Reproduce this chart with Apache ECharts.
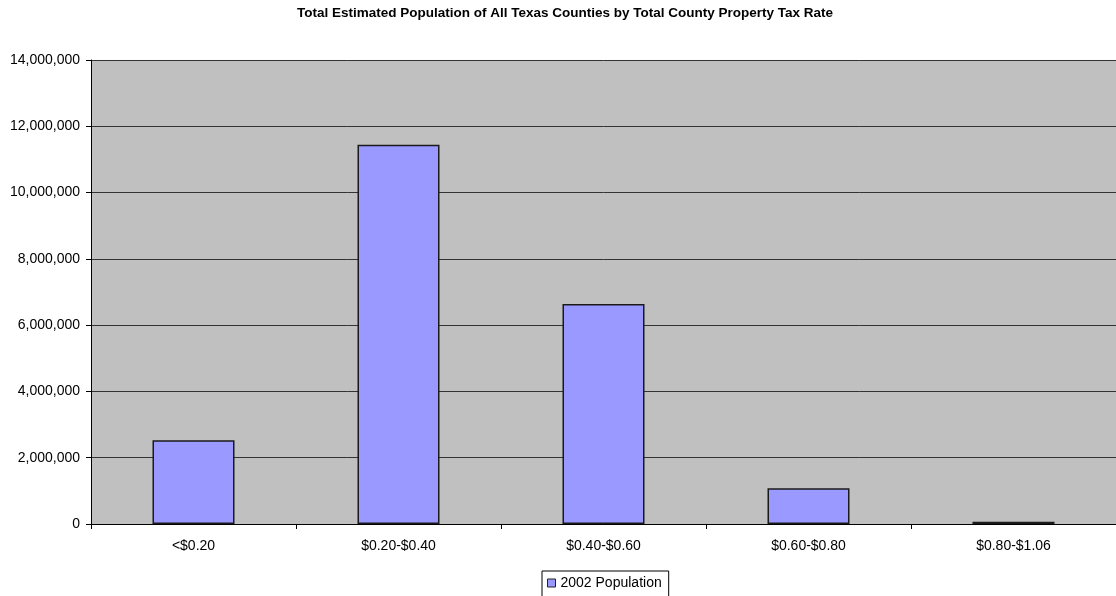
<!DOCTYPE html>
<html>
<head>
<meta charset="utf-8">
<script src="https://cdn.jsdelivr.net/npm/echarts@6/dist/echarts.min.js"></script>
<style>
  html, body { margin: 0; padding: 0; background: #fff; }
  #chart { width: 1116px; height: 596px; }
</style>
</head>
<body>
<div id="chart"></div>
<script>
// Tax-rate brackets and the 2002 population living in counties of each bracket
const categories = ['<$0.20', '$0.20-$0.40', '$0.40-$0.60', '$0.60-$0.80', '$0.80-$1.06'];
const population2002 = [2530000, 11440000, 6640000, 1080000, 70000];
const seriesName = '2002 Population';
const chartTitle = 'Total Estimated Population of All Texas Counties by Total County Property Tax Rate';

const fmt = v => v.toLocaleString('en-US');
const font = '"Liberation Sans", Arial, sans-serif';

const chart = echarts.init(document.getElementById('chart'), null, { renderer: 'canvas' });
chart.setOption({
  animation: false,
  backgroundColor: '#ffffff',
  title: {
    text: chartTitle,
    left: 297,
    top: 6,
    padding: 0,
    textStyle: { fontFamily: font, fontSize: 13.5, fontWeight: 'bold', color: '#000' }
  },
  legend: {
    data: [seriesName],
    top: 571,
    left: 542,
    icon: 'rect',
    itemWidth: 8,
    itemHeight: 8,
    itemGap: 4,
    padding: [5, 7, 8, 5],
    borderColor: '#000',
    borderWidth: 1,
    borderRadius: 0,
    textStyle: { fontFamily: font, fontSize: 14, color: '#000', padding: [0, 0, 0, 0] },
    itemStyle: { borderColor: '#222', borderWidth: 1 }
  },
  grid: { left: 91, top: 60, width: 1031, height: 464, containLabel: false, show: true,
          backgroundColor: '#c0c0c0', borderWidth: 0 },
  xAxis: {
    type: 'category',
    data: categories,
    axisLine: { lineStyle: { color: '#000', width: 1 } },
    axisTick: { show: true, length: 5, lineStyle: { color: '#000' } },
    axisLabel: { fontFamily: font, fontSize: 14, color: '#000', margin: 15 },
    splitLine: { show: false }
  },
  yAxis: {
    type: 'value',
    min: 0,
    max: 14000000,
    interval: 2000000,
    axisLine: { show: true, lineStyle: { color: '#000', width: 1 } },
    axisTick: { show: true, length: 5, lineStyle: { color: '#000' } },
    axisLabel: { fontFamily: font, fontSize: 14, color: '#000', margin: 11, formatter: fmt },
    splitLine: { show: true, lineStyle: { color: '#333', width: 1 } }
  },
  series: [{
    name: seriesName,
    type: 'bar',
    data: population2002,
    barWidth: '40%',
    itemStyle: { color: '#9999ff', borderColor: '#1a1a1a', borderWidth: 1.5 }
  }]
});
</script>
</body>
</html>
